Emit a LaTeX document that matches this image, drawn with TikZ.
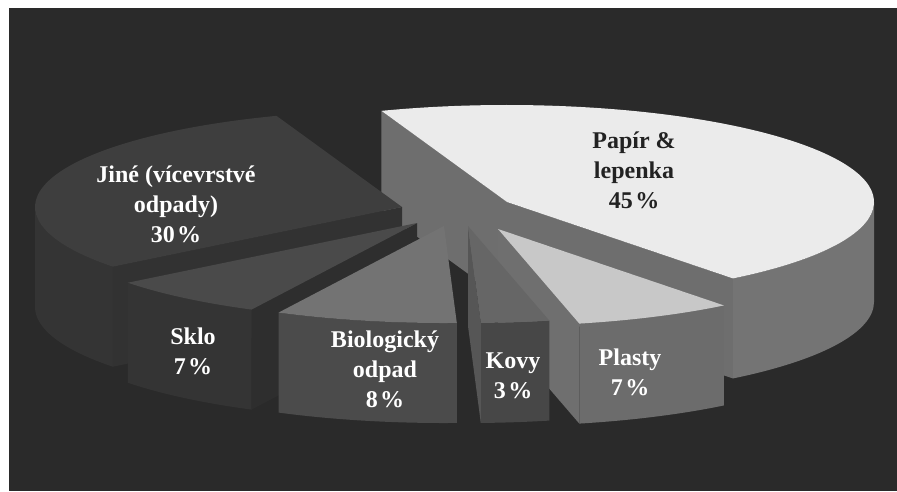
\documentclass[tikz,border=0pt]{standalone}
\usepackage{fontspec}
\setmainfont{Liberation Serif}
\usetikzlibrary{calc}
\definecolor{bg}{HTML}{2A2A2A}
\definecolor{papTop}{HTML}{EBEBEB}
\definecolor{papSide}{HTML}{747474}
\definecolor{papFace}{HTML}{6E6E6E}
\definecolor{jineTop}{HTML}{3E3E3E}
\definecolor{jineSide}{HTML}{343434}
\definecolor{jineFace}{HTML}{323232}
\definecolor{skloTop}{HTML}{4A4A4A}
\definecolor{skloSide}{HTML}{343434}
\definecolor{skloFace}{HTML}{2E2E2E}
\definecolor{bioTop}{HTML}{737373}
\definecolor{bioSide}{HTML}{4B4B4B}
\definecolor{kovyTop}{HTML}{666666}
\definecolor{kovySide}{HTML}{474747}
\definecolor{kovyFace}{HTML}{565656}
\definecolor{plTop}{HTML}{C8C8C8}
\definecolor{plSide}{HTML}{6C6C6C}
\definecolor{plFace}{HTML}{6F6F6F}
\definecolor{darktext}{HTML}{222222}
% side band: apex, t1, t2, colour
\newcommand\pieside[4]{\fill[#4] ($(#1)+(#2:367pt and 97pt)$) arc[start angle=#2, end angle=#3, x radius=367pt, y radius=97pt] -- ++(0,-100) arc[start angle=#3, end angle=#2, x radius=367pt, y radius=97pt] -- cycle;}
% radial face: apex, t, colour
\newcommand\pieface[3]{\fill[#3] (#1) -- ($(#1)+(#2:367pt and 97pt)$) -- ++(0,-100) -- ($(#1)+(0,-100)$) -- cycle;}
% top: apex, t1, t2, colour
\newcommand\pietop[4]{\fill[#4] (#1) -- ($(#1)+(#2:367pt and 97pt)$) arc[start angle=#2, end angle=#3, x radius=367pt, y radius=97pt] -- cycle;}
\newcommand\pct{\kern2.5pt\%}
\begin{document}
\begin{tikzpicture}[x=1pt,y=1pt,
  lbl/.style={font=\bfseries\fontsize{24}{30}\selectfont, align=center, text=white, inner sep=0pt}]
\useasboundingbox (0,0) rectangle (897,-491);
\fill[white] (0,0) rectangle (897,-491);
\fill[bg] (9,-8) rectangle (897,-491);
% apexes
\coordinate (pap) at (507,-202);
\coordinate (jine) at (402,-207);
\coordinate (sklo) at (417,-223);
\coordinate (pl) at (498,-229);
\coordinate (kovy) at (468,-226);
\coordinate (bio) at (444,-226);
% Papir 45%
\pieside{pap}{-52}{0}{papSide}
\pieface{pap}{-52}{papFace}
\pieface{pap}{110}{papFace}
\pietop{pap}{-52}{110}{papTop}
% Jine 30%
\pieside{jine}{180}{218}{jineSide}
\pieface{jine}{218}{jineFace}
\pietop{jine}{110}{218}{jineTop}
% Sklo 7%
\pieside{sklo}{218}{243.2}{skloSide}
\pieface{sklo}{243.2}{skloFace}
\pietop{sklo}{218}{243.2}{skloTop}
% Plasty 7%
\pieside{pl}{282.8}{308}{plSide}
\pieface{pl}{282.8}{plFace}
\pietop{pl}{282.8}{308}{plTop}
% Kovy 3%
\pieside{kovy}{272}{282.8}{kovySide}
\pieface{kovy}{272}{kovyFace}
\pietop{kovy}{272}{282.8}{kovyTop}
% Biologicky 8%
\pieside{bio}{243.2}{272}{bioSide}
\pietop{bio}{243.2}{272}{bioTop}
% labels
\node[lbl, text=darktext] (lpap) at (634,-170) {Papír \&\\lepenka\\45\pct};
\node[lbl] (ljine) at (176,-204) {Jiné (vícevrstvé\\odpady)\\30\pct};
\node[lbl] (lsklo) at (193,-351) {Sklo\\7\pct};
\node[lbl] (lbio) at (385,-369) {Biologický\\odpad\\8\pct};
\node[lbl] (lkovy) at (513,-376) {Kovy\\3\pct};
\node[lbl] (lpl) at (630,-372) {Plasty\\7\pct};
\end{tikzpicture}
\end{document}
